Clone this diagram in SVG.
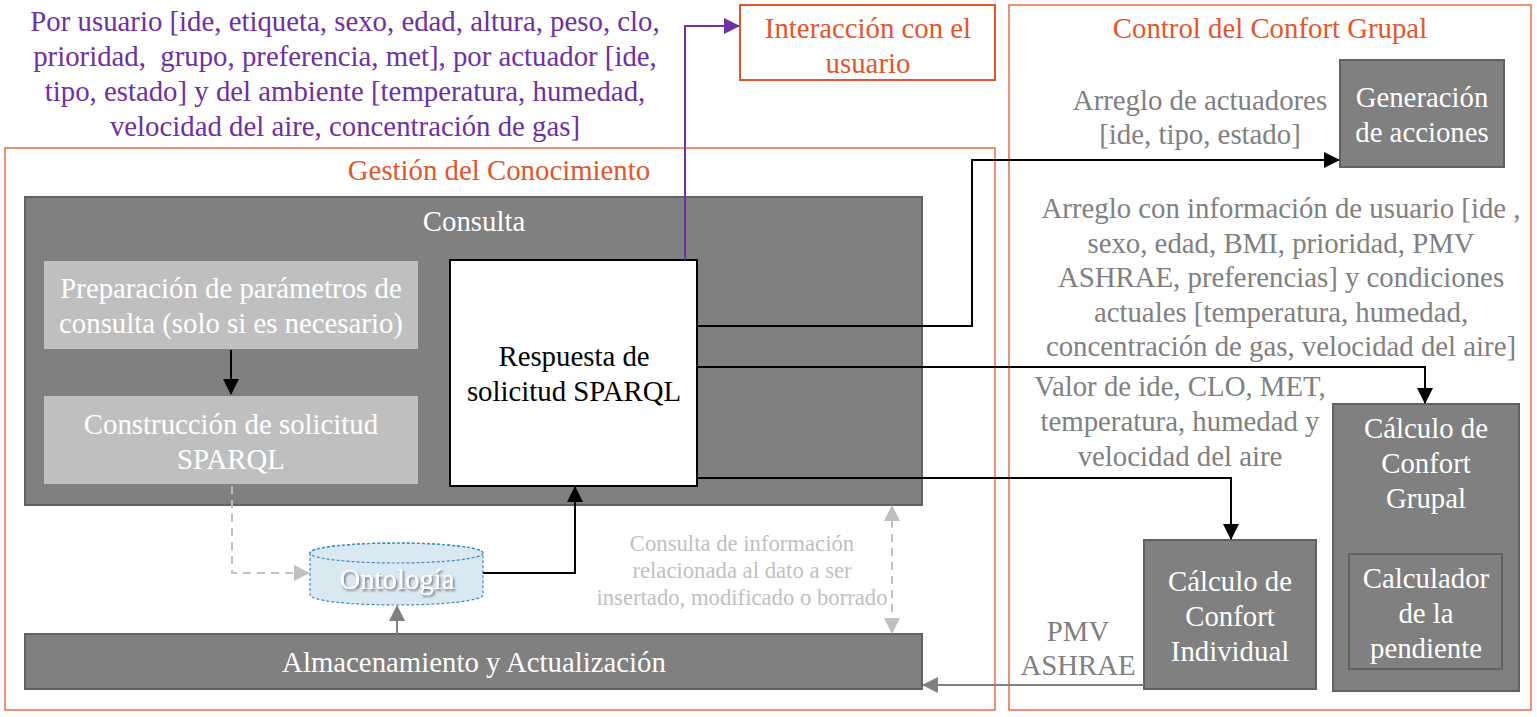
<svg xmlns="http://www.w3.org/2000/svg" width="1537" height="717" viewBox="0 0 1537 717">
<style>
text{font-family:"Liberation Serif","Times New Roman",serif;font-size:28.8px;text-anchor:middle}
.w{fill:#ffffff}.k{fill:#000000}.o{fill:#E2562C}.p{fill:#7030A0}.g{fill:#808080}.lg{fill:#BFBFBF;font-size:22.7px}
.frame{fill:none;stroke:#E2562C;stroke-width:1.3}
.dark{fill:#808080;stroke:#626262;stroke-width:2}
.light{fill:#BFBFBF;stroke:#7F7F7F;stroke-width:2}
.conn{fill:none}
</style>
<defs>
<marker id="ak" viewBox="0 0 16 16" markerWidth="16" markerHeight="16" refX="15" refY="8" orient="auto" markerUnits="userSpaceOnUse"><path d="M0,0 L16,8 L0,16 z" fill="#000"/></marker>
<marker id="ap" viewBox="0 0 16 16" markerWidth="16" markerHeight="16" refX="15" refY="8" orient="auto" markerUnits="userSpaceOnUse"><path d="M0,0 L16,8 L0,16 z" fill="#7030A0"/></marker>
<marker id="ag" viewBox="0 0 16 16" markerWidth="16" markerHeight="16" refX="15" refY="8" orient="auto" markerUnits="userSpaceOnUse"><path d="M0,0 L16,8 L0,16 z" fill="#808080"/></marker>
<marker id="al" viewBox="0 0 16 16" markerWidth="16" markerHeight="16" refX="15" refY="8" orient="auto-start-reverse" markerUnits="userSpaceOnUse"><path d="M0,0 L16,8 L0,16 z" fill="#BFBFBF"/></marker>
<filter id="sh" x="-20%" y="-20%" width="140%" height="160%"><feDropShadow dx="1.5" dy="2" stdDeviation="1" flood-color="#000" flood-opacity="0.5"/></filter>
</defs>

<g id="gestion">
<rect class="frame" x="5" y="148" width="990" height="562"/>
<text class="o" x="499" y="180">Gestión del Conocimiento</text>
</g>
<g id="control">
<rect class="frame" x="1009" y="5" width="522" height="705"/>
<text class="o" x="1270" y="38">Control del Confort Grupal</text>
</g>
<g id="interaccion">
<rect x="740" y="5" width="255" height="75" fill="#fff" stroke="#E2562C" stroke-width="2"/>
<text class="o" x="868" y="38">Interacción con el</text>
<text class="o" x="868" y="73">usuario</text>
</g>
<g id="consulta">
<rect class="dark" x="25" y="197" width="897" height="308"/>
<text class="w" x="474" y="231">Consulta</text>
</g>
<g id="preparacion">
<rect class="light" x="43" y="260" width="376" height="90"/>
<text class="w" x="231" y="298">Preparación de parámetros de</text>
<text class="w" x="231" y="333">consulta (solo si es necesario)</text>
</g>
<g id="construccion">
<rect class="light" x="43" y="395" width="376" height="90"/>
<text class="w" x="231" y="434">Construcción de solicitud</text>
<text class="w" x="231" y="469">SPARQL</text>
</g>
<g id="respuesta">
<rect x="450" y="260" width="247" height="226" fill="#fff" stroke="#000" stroke-width="2"/>
<text class="k" x="574" y="366">Respuesta de</text>
<text class="k" x="574" y="401">solicitud SPARQL</text>
</g>
<g id="ontologia">
<path d="M310,553 L310,595 A86.5,10 0 0 0 483,595 L483,553 A86.5,10 0 0 0 310,553 z" fill="#D9E8F1" stroke="#3C8DC0" stroke-width="1.2" stroke-dasharray="3,2"/>
<ellipse cx="396.5" cy="553" rx="86.5" ry="10" fill="none" stroke="#3C8DC0" stroke-width="1.2" stroke-dasharray="3,2"/>
<text class="w" x="397" y="589" filter="url(#sh)">Ontología</text>
</g>
<g id="almacenamiento">
<rect class="dark" x="25" y="634" width="897" height="55"/>
<text class="w" x="474" y="672">Almacenamiento y Actualización</text>
</g>
<g id="generacion">
<rect class="dark" x="1340" y="60" width="164" height="107"/>
<text class="w" x="1422" y="107">Generación</text>
<text class="w" x="1422" y="142">de acciones</text>
</g>
<g id="grupal">
<rect class="dark" x="1333" y="404" width="186" height="287"/>
<text class="w" x="1426" y="438">Cálculo de</text>
<text class="w" x="1426" y="473">Confort</text>
<text class="w" x="1426" y="508">Grupal</text>
<rect class="dark" x="1349" y="554" width="153" height="115"/>
<text class="w" x="1426" y="588">Calculador</text>
<text class="w" x="1426" y="623">de la</text>
<text class="w" x="1426" y="658">pendiente</text>
</g>
<g id="individual">
<rect class="dark" x="1144" y="540" width="172" height="149"/>
<text class="w" x="1230" y="591">Cálculo de</text>
<text class="w" x="1230" y="626">Confort</text>
<text class="w" x="1230" y="661">Individual</text>
</g>

<g id="labels">
<text class="p" x="345" y="31">Por usuario [ide, etiqueta, sexo, edad, altura, peso, clo,</text>
<text class="p" x="345" y="66">prioridad,&#160; grupo, preferencia, met], por actuador [ide,</text>
<text class="p" x="345" y="101">tipo, estado] y del ambiente [temperatura, humedad,</text>
<text class="p" x="345" y="136">velocidad del aire, concentración de gas]</text>
<text class="lg" x="742" y="551">Consulta de información</text>
<text class="lg" x="742" y="578">relacionada al dato a ser</text>
<text class="lg" x="742" y="605">insertado, modificado o borrado</text>
<text class="g" x="1200" y="110">Arreglo de actuadores</text>
<text class="g" x="1200" y="144">[ide, tipo, estado]</text>
<text class="g" x="1281" y="218">Arreglo con información de usuario [ide ,</text>
<text class="g" x="1281" y="253">sexo, edad, BMI, prioridad, PMV</text>
<text class="g" x="1281" y="287">ASHRAE, preferencias] y condiciones</text>
<text class="g" x="1281" y="322">actuales [temperatura, humedad,</text>
<text class="g" x="1281" y="356">concentración de gas, velocidad del aire]</text>
<text class="g" x="1180" y="396">Valor de ide, CLO, MET,</text>
<text class="g" x="1180" y="431">temperatura, humedad y</text>
<text class="g" x="1180" y="466">velocidad del aire</text>
<text class="g" x="1078" y="641">PMV</text>
<text class="g" x="1078" y="675">ASHRAE</text>
</g>

<g id="connectors">
<path class="conn" d="M231,350 V394" stroke="#000" stroke-width="2" marker-end="url(#ak)"/>
<path class="conn" d="M685,260 V26 H739" stroke="#7030A0" stroke-width="2" marker-end="url(#ap)"/>
<path class="conn" d="M697,326 H972 V160 H1339" stroke="#000" stroke-width="2" marker-end="url(#ak)"/>
<path class="conn" d="M697,367 H1425 V403" stroke="#000" stroke-width="2" marker-end="url(#ak)"/>
<path class="conn" d="M697,478 H1231 V539" stroke="#000" stroke-width="2" marker-end="url(#ak)"/>
<path class="conn" d="M483,573 H575 V487" stroke="#000" stroke-width="2" marker-end="url(#ak)"/>
<path class="conn" d="M232,486 V573 H309" stroke="#BFBFBF" stroke-width="2" stroke-dasharray="8,6" marker-end="url(#al)"/>
<path class="conn" d="M892,506 V633" stroke="#BFBFBF" stroke-width="2" stroke-dasharray="8,6" marker-start="url(#al)" marker-end="url(#al)"/>
<path class="conn" d="M397,634 V606" stroke="#808080" stroke-width="2" marker-end="url(#ag)"/>
<path class="conn" d="M1144,685 H923" stroke="#808080" stroke-width="2" marker-end="url(#ag)"/>
</g>
</svg>
